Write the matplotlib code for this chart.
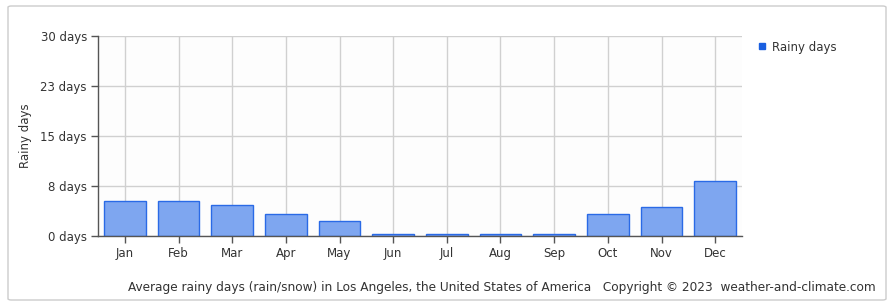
import matplotlib
matplotlib.use("Agg")
import matplotlib.pyplot as plt
from matplotlib.patches import FancyBboxPatch
from matplotlib.lines import Line2D

months = ["Jan", "Feb", "Mar", "Apr", "May", "Jun",
          "Jul", "Aug", "Sep", "Oct", "Nov", "Dec"]
rainy_days = [5.3, 5.3, 4.7, 3.3, 2.3, 0.3, 0.3, 0.3, 0.3, 3.3, 4.3, 8.3]
y_ticks = [0, 7.5, 15, 22.5, 30]
y_tick_labels = ["0 days", "8 days", "15 days", "23 days", "30 days"]

W, H = 892, 306
fig = plt.figure(figsize=(W / 100, H / 100), dpi=100)
plt.rcParams["font.family"] = ["DejaVu Sans"]

# outer frame
fig.patches.append(FancyBboxPatch((8 / W, 6 / H), 878 / W, 294 / H,
                                  boxstyle="round,pad=0,rounding_size=0.004",
                                  transform=fig.transFigure, fill=False,
                                  edgecolor="#cccccc", lw=1))

ax = fig.add_axes([98 / W, 1 - 236 / H, 644 / W, 200 / H])
ax.set_facecolor("#fdfdfd")
x = range(len(months))
ax.bar(x, rainy_days, width=0.78, color="#7ea6f0", edgecolor="#2a6ae6",
       lw=1.0, zorder=3)

ax.set_xlim(-0.5, 11.5)
ax.set_ylim(0, 30)
ax.set_xticks(list(x))
ax.set_xticklabels(months, fontsize=8.5, color="#333333")
ax.set_yticks(y_ticks)
ax.set_yticklabels(y_tick_labels, fontsize=8.5, color="#333333")
ax.tick_params(axis="both", length=5, width=1, color="#555555", pad=3)
ax.grid(True, color="#d0d0d0", lw=1, zorder=0)
for s in ["top", "right"]:
    ax.spines[s].set_visible(False)
for s in ["left", "bottom"]:
    ax.spines[s].set_color("#555555")
    ax.spines[s].set_linewidth(1)
    ax.spines[s].set_zorder(4)
ax.set_ylabel("Rainy days", fontsize=8.5, color="#333333", labelpad=6)

# legend
ax.legend(handles=[Line2D([], [], marker="s", ls="none", color="#1a5fe0",
                          markersize=4.5, label="Rainy days")],
          loc="upper left", bbox_to_anchor=(744 / W, 1 - 30 / H),
          bbox_transform=fig.transFigure, frameon=False, fontsize=8.5,
          handletextpad=0.3, handlelength=1.2, labelcolor="#333333")

fig.text(876 / W, 1 - 288 / H,
         "Average rainy days (rain/snow) in Los Angeles, the United States of America"
         "   Copyright \u00a9 2023  weather-and-climate.com",
         ha="right", va="center", fontsize=8.7, color="#333333")

fig.savefig("out.png", dpi=100)
